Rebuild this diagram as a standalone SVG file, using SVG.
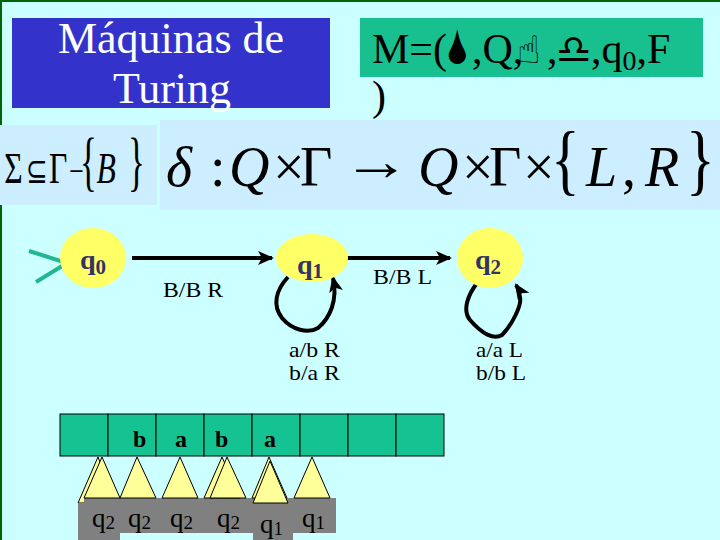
<svg xmlns="http://www.w3.org/2000/svg" width="720" height="540" viewBox="0 0 720 540">
<defs>
<style>
.serif{font-family:"Liberation Serif","Times New Roman",serif}
.state{fill:#FFFF66}
.slab{font-family:"Liberation Serif",serif;font-weight:bold;font-size:28px;fill:#333366}
.lab{font-family:"Liberation Serif",serif;font-size:22px;fill:#000}
.edge{fill:none;stroke:#000;stroke-width:4}
.cell{fill:#14C391;stroke:#000;stroke-width:1}
.tri{fill:#FFFF99;stroke:#000;stroke-width:1}
.sym{font-size:24px;font-weight:bold;font-family:"Liberation Serif",serif}
.ql{font-family:"Liberation Serif",serif;font-size:27px;fill:#000}
.math{font-family:"Liberation Serif",serif;fill:#000}
.dj{font-family:"DejaVu Sans",sans-serif}
</style>
<marker id="ah" markerUnits="userSpaceOnUse" markerWidth="16" markerHeight="14" refX="14" refY="7" orient="auto">
<path d="M0,0 L16,7 L0,14 L4,7 Z" fill="#000"/>
</marker>
</defs>
<rect width="720" height="540" fill="#CCFFFF"/>
<path d="M1,540 V1 H720" fill="none" stroke="#006600" stroke-width="2"/>

<!-- title -->
<rect x="12" y="18" width="318" height="90" fill="#3333CC"/>
<text class="serif" x="171" y="53" font-size="44" fill="#fff" text-anchor="middle">Máquinas de</text>
<text class="serif" x="172" y="103" font-size="44" fill="#fff" text-anchor="middle">Turing</text>

<!-- tuple -->
<rect x="360" y="18" width="343" height="59" fill="#19C08F"/>
<text class="serif" y="63" font-size="42" fill="#000"><tspan x="372">M=(</tspan><tspan x="444" class="dj" font-size="46">🌢</tspan><tspan x="472">,Q,</tspan><tspan x="517" class="dj" font-size="38">☝</tspan><tspan x="547">,</tspan><tspan x="556" class="dj" font-size="40">♎</tspan><tspan x="591">,q</tspan><tspan font-size="28" dy="7">0</tspan><tspan dy="-7">,F</tspan></text>
<text class="serif" x="372" y="110" font-size="42" fill="#000">)</text>

<!-- formulas -->
<rect x="0" y="125" width="157" height="80" fill="#CCEEFF"/>
<rect x="160" y="120" width="560" height="90" fill="#CCEEFF"/>
<g class="math">
<g transform="scale(0.72,1)">
<text y="183" font-size="44"><tspan x="6">Σ</tspan><tspan x="36" class="dj" font-size="36">⊆</tspan><tspan x="68">Γ</tspan><tspan x="96" font-size="36">−</tspan></text>
<text y="183" font-size="44" font-style="italic" x="134">B</text>
</g>
<text font-size="50" transform="translate(80,183) scale(0.7,1.3)">{</text>
<text font-size="50" transform="translate(128,183) scale(0.7,1.3)">}</text>
<text y="186" font-size="56"><tspan x="166" font-style="italic">δ</tspan><tspan x="210">:</tspan><tspan x="229" font-style="italic">Q</tspan><tspan x="273">×</tspan><tspan x="300">Γ</tspan><tspan x="418" font-style="italic">Q</tspan><tspan x="462">×</tspan><tspan x="489">Γ</tspan><tspan x="523">×</tspan><tspan x="586" font-style="italic">L</tspan><tspan x="622">,</tspan><tspan x="645" font-style="italic">R</tspan></text>
<text x="342" y="180" font-size="56" textLength="68" lengthAdjust="spacingAndGlyphs">→</text>
<text font-size="60" transform="translate(551,186) scale(1,1.3)">{</text>
<text font-size="60" transform="translate(686,186) scale(1,1.3)">}</text>
</g>

<!-- connectors -->
<g id="connectors">
<path d="M29,251 L67,263 L36,282" fill="none" stroke="#20B890" stroke-width="4"/>
<line class="edge" x1="132" y1="258" x2="272" y2="258" marker-end="url(#ah)"/>
<line class="edge" x1="343" y1="258" x2="450" y2="258" marker-end="url(#ah)"/>
<path class="edge" d="M288,277 C276,290 272,305 282,318 C292,330 308,334 318,328 C330,318 338,300 333,278" marker-end="url(#ah)"/>
<path class="edge" d="M477,283 C468,295 462,310 470,320 C482,334 494,340 502,335 C512,325 522,305 520,297 C519,292 518,288 516,285" marker-end="url(#ah)"/>
<text class="lab" x="163" y="297" textLength="60" lengthAdjust="spacingAndGlyphs">B/B R</text>
<text class="lab" x="373" y="284" textLength="59" lengthAdjust="spacingAndGlyphs">B/B L</text>
<text class="lab" x="289" y="357" textLength="51" lengthAdjust="spacingAndGlyphs">a/b R</text>
<text class="lab" x="289" y="380" textLength="51" lengthAdjust="spacingAndGlyphs">b/a R</text>
<text class="lab" x="476" y="357" textLength="47" lengthAdjust="spacingAndGlyphs">a/a L</text>
<text class="lab" x="476" y="380" textLength="50" lengthAdjust="spacingAndGlyphs">b/b L</text>
</g>

<!-- states -->
<g id="q0">
<ellipse class="state" cx="93" cy="258" rx="33" ry="30"/>
<text class="slab" x="80" y="269">q<tspan font-size="21" dy="5">0</tspan></text>
</g>
<g id="q1">
<ellipse class="state" cx="312" cy="258" rx="36" ry="24"/>
<text class="slab" x="297" y="274">q<tspan font-size="21" dy="4">1</tspan></text>
</g>
<g id="q2">
<ellipse class="state" cx="490" cy="258" rx="33" ry="30"/>
<text class="slab" x="475" y="269">q<tspan font-size="21" dy="5">2</tspan></text>
</g>

<!-- tape -->
<g id="tape">
<rect class="cell" x="60" y="414" width="48" height="42"/>
<rect class="cell" x="108" y="414" width="48" height="42"/>
<rect class="cell" x="156" y="414" width="48" height="42"/>
<rect class="cell" x="204" y="414" width="48" height="42"/>
<rect class="cell" x="252" y="414" width="48" height="42"/>
<rect class="cell" x="300" y="414" width="48" height="42"/>
<rect class="cell" x="348" y="414" width="48" height="42"/>
<rect class="cell" x="396" y="414" width="48" height="42"/>
<text class="sym" x="133" y="447">b</text>
<text class="sym" x="175" y="447">a</text>
<text class="sym" x="215" y="447">b</text>
<text class="sym" x="264" y="447">a</text>
</g>

<!-- heads -->
<g id="heads">
<polygon class="tri" points="98,457 78,503 116,503"/>
<rect x="78" y="503" width="42" height="37" fill="#808080"/>
<rect x="84" y="498" width="252" height="35" fill="#808080"/>
<rect x="253" y="498" width="40" height="42" fill="#808080"/>
<polygon class="tri" points="102,457 84,498 120,498"/>
<polygon class="tri" points="137,457 120,498 156,498"/>
<polygon class="tri" points="180,457 162,498 198,498"/>
<polygon class="tri" points="222,457 204,498 240,498"/>
<polygon class="tri" points="227,457 210,498 246,498"/>
<polygon class="tri" points="269,457 252,498 287,498"/>
<polygon class="tri" points="270,461 253,503 288,503"/>
<polygon class="tri" points="312,457 294,498 330,498"/>
<text class="ql" x="92" y="527">q<tspan font-size="19" dy="2">2</tspan></text>
<text class="ql" x="128" y="527">q<tspan font-size="19" dy="2">2</tspan></text>
<text class="ql" x="170" y="527">q<tspan font-size="19" dy="2">2</tspan></text>
<text class="ql" x="217" y="527">q<tspan font-size="19" dy="2">2</tspan></text>
<text class="ql" x="260" y="533">q<tspan font-size="19" dy="2">1</tspan></text>
<text class="ql" x="302" y="527">q<tspan font-size="19" dy="2">1</tspan></text>
</g>
</svg>
